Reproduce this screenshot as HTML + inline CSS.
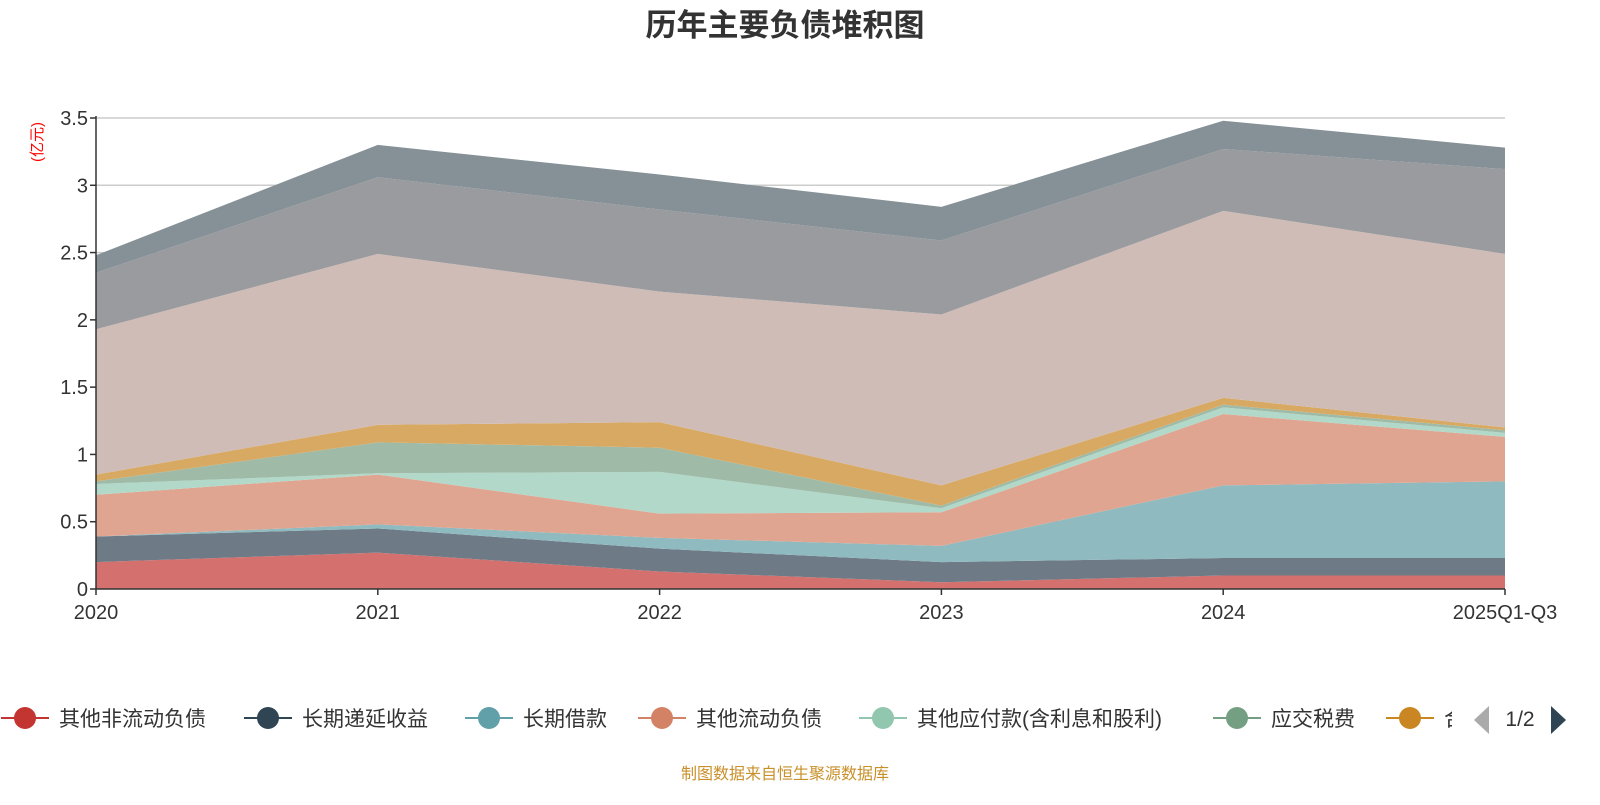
<!DOCTYPE html>
<html><head><meta charset="utf-8"><style>
body{margin:0;background:#fff;font-family:"Liberation Sans","Noto Sans CJK SC",sans-serif}
svg text{font-family:"Liberation Sans","Noto Sans CJK SC",sans-serif}
</style></head><body>
<svg id="c" width="1600" height="800">
<text x="785" y="36" text-anchor="middle" font-size="31" font-weight="bold" fill="#333">历年主要负债堆积图</text>
<text transform="translate(42,142) rotate(-90)" text-anchor="middle" font-size="15" fill="#f00">(亿元)</text>
<g id="grid"></g><g id="areas"></g><g id="axes"></g><g id="legend"></g>
<text x="785" y="779" text-anchor="middle" font-size="16" fill="#c8902a">制图数据来自恒生聚源数据库</text>
</svg>
<script>
const categories=["2020","2021","2022","2023","2024","2025Q1-Q3"];
const yTicks=[0,0.5,1,1.5,2,2.5,3,3.5];
const yTickLabels=["0","0.5","1","1.5","2","2.5","3","3.5"];
const seriesNames=["其他非流动负债","长期递延收益","长期借款","其他流动负债","其他应付款(含利息和股利)","应交税费","合同负债","应付账款","应付票据","短期借款"];
const s1=[0.20,0.27,0.13,0.05,0.10,0.10];
const s2=[0.19,0.18,0.17,0.15,0.13,0.13];
const s3=[0.00,0.03,0.08,0.12,0.54,0.57];
const s4=[0.31,0.37,0.18,0.25,0.53,0.33];
const s5=[0.08,0.01,0.31,0.03,0.05,0.03];
const s6=[0.02,0.23,0.18,0.02,0.02,0.02];
const s7=[0.05,0.13,0.19,0.15,0.05,0.02];
const s8=[1.08,1.27,0.97,1.27,1.39,1.29];
const s9=[0.42,0.57,0.61,0.55,0.46,0.63];
const s10=[0.13,0.24,0.26,0.25,0.21,0.16];
const series=[s1,s2,s3,s4,s5,s6,s7,s8,s9,s10];
const fills=["#d4706e","#6e7b86","#8fbac0","#e0a590","#b1d8c8","#9fbba8","#d8a962","#d0bcb6","#9a9b9f","#859197"];
const legendColors=["#c23531","#2f4554","#61a0a8","#d48265","#91c7ae","#749f83","#ca8622"];
const NS="http://www.w3.org/2000/svg";
const x0=96,x1=1505,y0=589,yTop=118,yMax=3.5;
const X=i=>x0+i*(x1-x0)/(categories.length-1);
const Y=v=>y0-v*(y0-yTop)/yMax;
function mk(t,a,p){const e=document.createElementNS(NS,t);for(const k in a)e.setAttribute(k,a[k]);p.appendChild(e);return e;}
const grid=document.getElementById('grid'),areas=document.getElementById('areas'),axes=document.getElementById('axes'),leg=document.getElementById('legend');
yTicks.forEach((v,i)=>{
 if(v>0){const l=mk('line',{x1:x0,x2:x1,y1:Y(v),y2:Y(v),stroke:'#ccc','stroke-width':1.5},grid);
 
 }
 mk('line',{x1:x0-6,x2:x0,y1:Y(v),y2:Y(v),stroke:'#333','stroke-width':1.5},axes);
 const t=mk('text',{x:x0-8,y:Y(v)+7,'text-anchor':'end','font-size':20,fill:'#333'},axes);t.textContent=yTickLabels[i];
 
 
});
let cum=categories.map(()=>0);
series.forEach((s,k)=>{
 const lower=cum.slice();cum=cum.map((c,i)=>c+s[i]);
 let d='M'+cum.map((v,i)=>X(i)+','+Y(v)).join(' L');
 for(let i=categories.length-1;i>=0;i--)d+=' L'+X(i)+','+Y(lower[i]);
 const p=mk('path',{d:d+'Z',fill:fills[k]},areas);
 
 
});
mk('line',{x1:x0,x2:x0,y1:yTop-2,y2:y0,stroke:'#333','stroke-width':1.5},axes);
mk('line',{x1:x0,x2:x1,y1:y0,y2:y0,stroke:'#333','stroke-width':1.5},axes);
categories.forEach((c,i)=>{
 mk('line',{x1:X(i),x2:X(i),y1:y0,y2:y0+6,stroke:'#333','stroke-width':1.5},axes);
 const t=mk('text',{x:X(i),y:y0+30,'text-anchor':'middle','font-size':20,fill:'#333'},axes);t.textContent=c;
 
 
});
const lx=[25,268,489,662,883,1237,1410];
lx.forEach((x,k)=>{
 const g=mk('g',{},leg);
 
 
 mk('line',{x1:x-24,x2:x+24,y1:718,y2:718,stroke:legendColors[k],'stroke-width':2},g);
 mk('circle',{cx:x,cy:718,r:11,fill:legendColors[k]},g);
 const t=mk('text',{x:x+34,y:726,'font-size':21,fill:'#333'},g);t.textContent=k<6?seriesNames[k]:'合';
});
const cover=mk('rect',{x:1452,y:700,width:148,height:40,fill:'#fff'},leg);
const pl=mk('path',{d:'M1489,706 L1474,720 L1489,734Z',fill:'#aaa'},leg);


const pt=mk('text',{x:1520,y:726,'text-anchor':'middle','font-size':21,fill:'#333'},leg);pt.textContent='1/2';


const pn=mk('path',{d:'M1551,706 L1566,720 L1551,734Z',fill:'#2f4554'},leg);


</script>
</body></html>
